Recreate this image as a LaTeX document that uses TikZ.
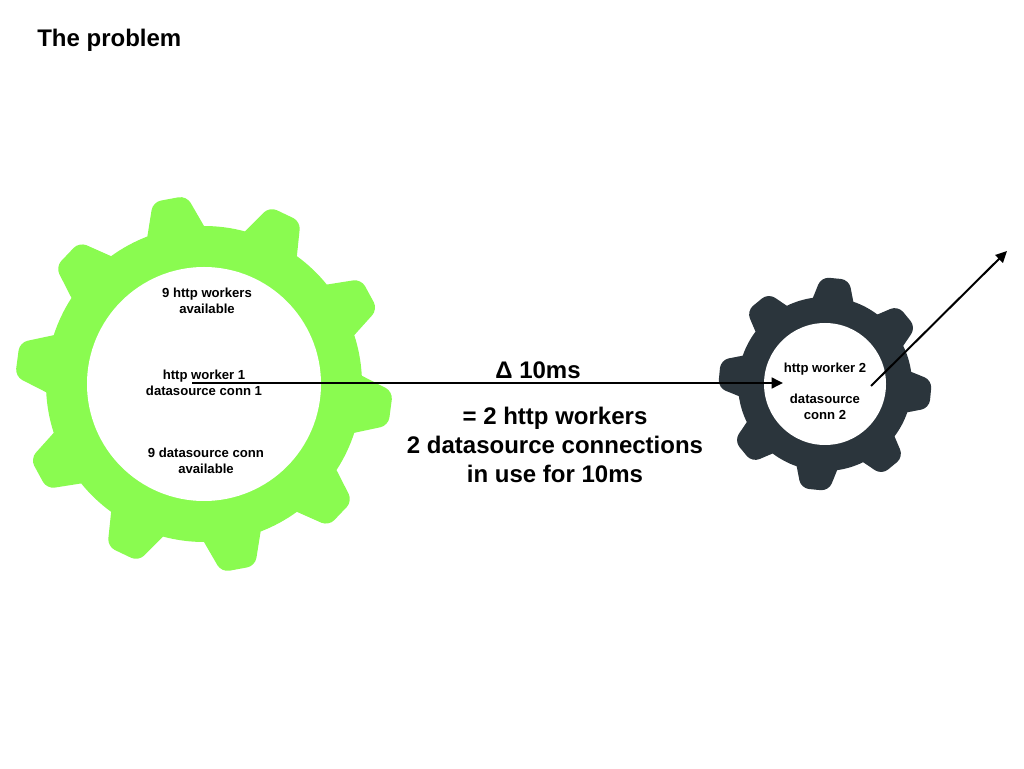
\documentclass[tikz,border=0pt]{standalone}
\usepackage{fontspec}
\setmainfont{Liberation Sans}
\usetikzlibrary{arrows.meta}
\definecolor{geargreen}{HTML}{8AFB50}
\definecolor{geardark}{HTML}{2B353C}
\tikzset{
  title/.style={font=\fontsize{18}{22}\selectfont\bfseries,anchor=west,inner sep=0pt},
  small/.style={font=\fontsize{9.85}{12}\selectfont\bfseries,align=center,inner sep=0pt},
  big/.style={font=\fontsize{18}{21.75}\selectfont\bfseries,align=center,inner sep=0pt},
  link/.style={draw=black,line width=1.8pt,-{Triangle[length=8.5pt,width=8pt]}},
}
% #1 centre, #2 teeth, #3 offset, #4 root r, #5 tip r, #6 base half angle, #7 tip half angle, #8 hole r, #9 colour
\newcommand{\mygear}[9]{%
  \pgfmathsetmacro{\gst}{360/#2}%
  \pgfmathtruncatemacro{\glast}{#2-1}%
  \begin{scope}[shift={(#1)}]
  \fill[#9]
    (#3-#6:#4)
    \foreach \k [evaluate=\k as \ang using #3+\k*\gst] in {0,...,\glast}{%
      [rounded corners=6pt] -- (\ang-#7:#5) -- (\ang+#7:#5) [sharp corners] -- (\ang+#6:#4)
      arc[start angle=\ang+#6, end angle=\ang+\gst-#6, radius=#4]
    } -- cycle;
  \fill[white] (0,0) circle[radius=#8];
  \end{scope}%
}
\begin{document}
\begin{tikzpicture}[x=0.75pt,y=0.75pt]
\useasboundingbox (0,0) rectangle (1024,768);
\coordinate (gA) at (204,384);
\coordinate (gB) at (825,384);
\mygear{gA}{10}{28.5}{158}{189}{10.5}{5.2}{117}{geargreen}
\mygear{gB}{8}{-5.5}{87}{107}{13.5}{7.5}{61}{geardark}
\node[title] (ttl) at (37,728) {The problem};
\node[small] (t1) at (207,467) {9 http workers\\available};
\node[small] (t2) at (204,385) {http worker 1\\datasource conn 1};
\node[small] (t3) at (206,307) {9 datasource conn\\available};
\node[small] (t4) at (825,399) {http worker 2};
\node[small] (t5) at (825,361) {datasource\\conn 2};
\node[big] (d) at (538,398) {Δ 10ms};
\node[big] (e) at (555,323) {= 2 http workers\\2 datasource connections\\in use for 10ms};
\coordinate (a1) at (192,385);
\coordinate (a2) at (783,385);
\coordinate (b1) at (871,382);
\coordinate (b2) at (1007,517);
\draw[link] (a1) -- (a2);
\draw[link,line width=1.5pt] (b1) -- (b2);
\end{tikzpicture}
\end{document}
